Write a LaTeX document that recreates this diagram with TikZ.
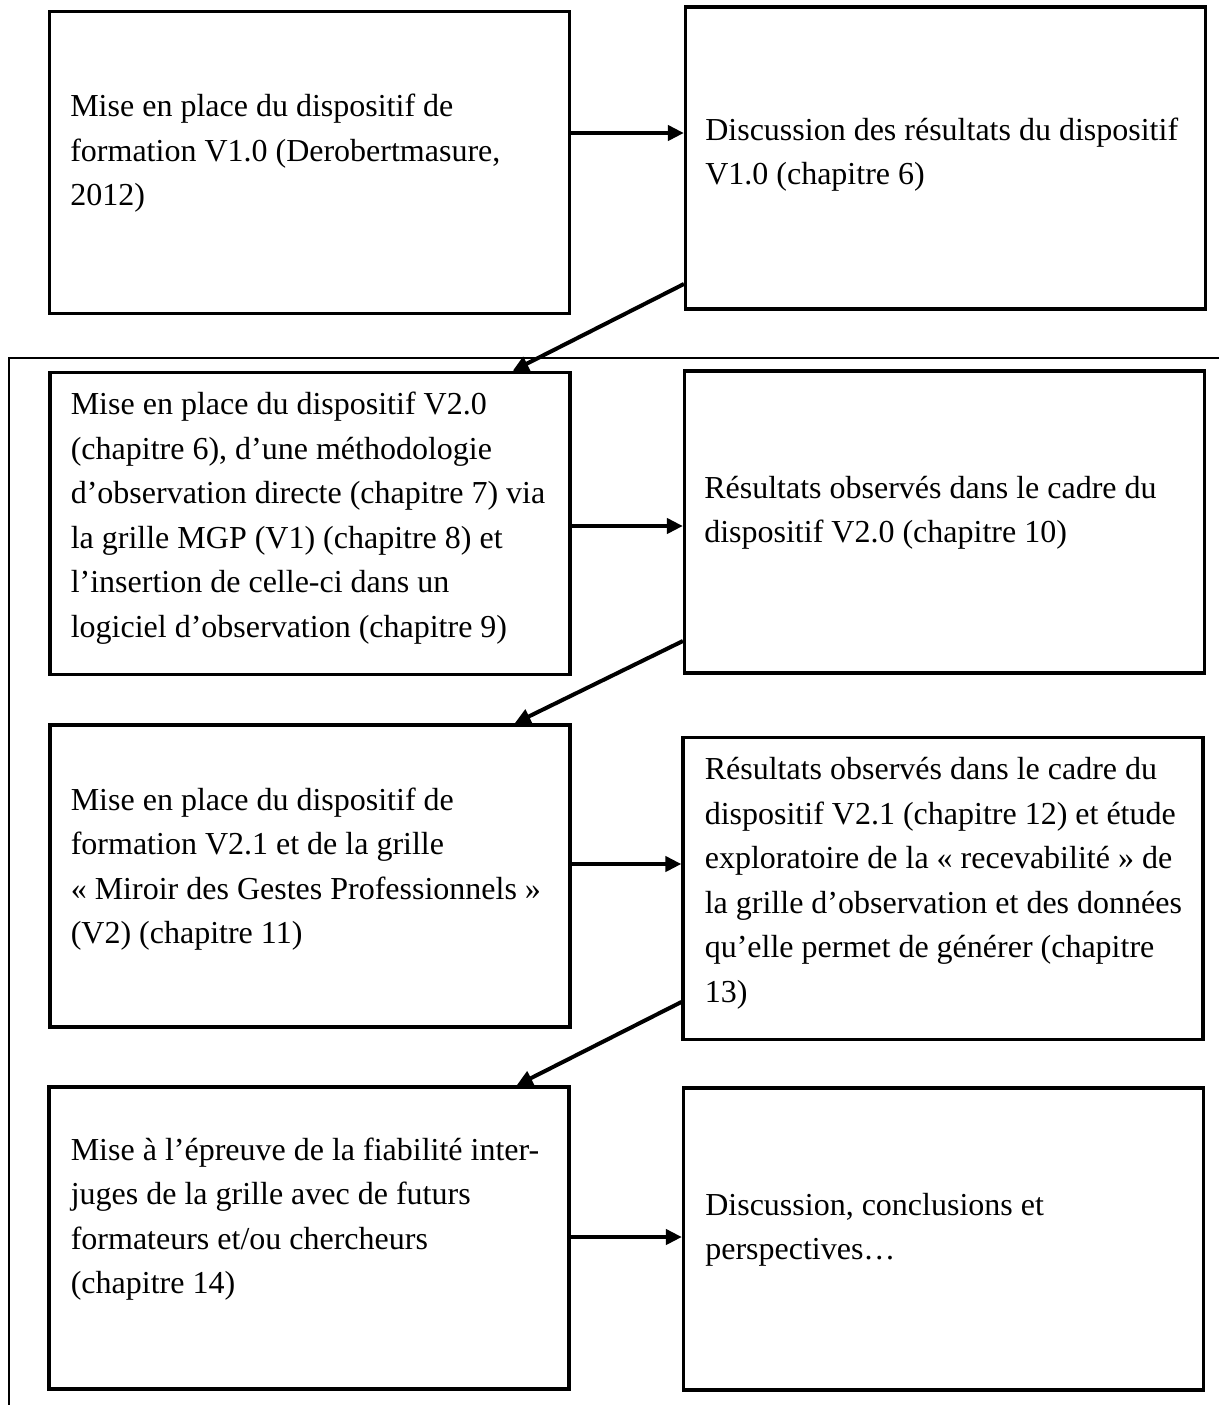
\documentclass[tikz,border=0pt]{standalone}
\usepackage{fontspec}
\setmainfont{Liberation Serif}
\usetikzlibrary{arrows.meta}

\begin{document}
\begin{tikzpicture}[x = 0.5pt, y = -0.5pt,
  box/.style = {draw, line width = 1.6pt, minimum width = 260pt, minimum height = 151pt, inner sep = 0pt},
  txt/.style = {anchor = north west, inner sep = 0pt, align = left, font = \fontsize{16}{22.25}\selectfont},
  arr/.style = {line width = 2pt, -{Triangle[length = 8pt, width = 7.5pt]}}]
\useasboundingbox (0,0) rectangle (1219,1405);
\coordinate (top) at (1219,358);
\coordinate (corner) at (9,358);
\coordinate (bottom) at (9,1405);
\node [box] (b1) at (309.5,162.5) {};
\node [box] (b2) at (945.5,158) {};
\node [box] (b3) at (310,523.5) {};
\node [box] (b4) at (944.5,522) {};
\node [box] (b5) at (310,876) {};
\node [box] (b6) at (943,888.5) {};
\node [box] (b7) at (309,1238) {};
\node [box] (b8) at (943.5,1239) {};
\node [txt] (t1) at ([shift = {(22,84)}]b1.north west) {Mise en place du dispositif de\\formation V1.0 (Derobertmasure,\\2012)};
\node [txt] (t2) at ([shift = {(21,112)}]b2.north west) {Discussion des résultats du dispositif\\V1.0 (chapitre 6)};
\node [txt] (t3) at ([shift = {(22,21)}]b3.north west) {Mise en place du dispositif V2.0\\(chapitre 6), d’une méthodologie\\d’observation directe (chapitre 7) via\\la grille MGP (V1) (chapitre 8) et\\l’insertion de celle-ci dans un\\logiciel d’observation (chapitre 9)};
\node [txt] (t4) at ([shift = {(21,106)}]b4.north west) {Résultats observés dans le cadre du\\dispositif V2.0 (chapitre 10)};
\node [txt] (t5) at ([shift = {(22,64)}]b5.north west) {Mise en place du dispositif de\\formation V2.1 et de la grille\\« Miroir des Gestes Professionnels »\\(V2) (chapitre 11)};
\node [txt] (t6) at ([shift = {(23,21)}]b6.north west) {Résultats observés dans le cadre du\\dispositif V2.1 (chapitre 12) et étude\\exploratoire de la « recevabilité » de\\la grille d’observation et des données\\qu’elle permet de générer (chapitre\\13)};
\node [txt] (t7) at ([shift = {(23,52)}]b7.north west) {Mise à l’épreuve de la fiabilité inter-\\juges de la grille avec de futurs\\formateurs et/ou chercheurs\\(chapitre 14)};
\node [txt] (t8) at ([shift = {(23,106)}]b8.north west) {Discussion, conclusions et\\perspectives…};
\draw [arr] ([yshift = 14.75pt]b1.east) -- ([yshift = 14.75pt]b1.east -| b2.west);
\draw [arr] ([yshift = -63pt]b2.west) -- ([xshift = -29.5pt]b3.north east);
\draw [arr] ([yshift = -1.25pt]b3.east) -- ([yshift = -1.25pt]b3.east -| b4.west);
\draw [arr] ([yshift = -59.5pt]b4.west) -- ([xshift = -28.5pt]b5.north east);
\draw [arr] ([yshift = 6pt]b5.east) -- ([yshift = 6pt]b5.east -| b6.west);
\draw [arr] ([yshift = -56.75pt]b6.west) -- ([xshift = -27pt]b7.north east);
\draw [arr] ([yshift = 0.5pt]b7.east) -- ([yshift = 0.5pt]b7.east -| b8.west);
\draw [line width = 1.4pt] (top) -- (corner) -- (bottom);
\end{tikzpicture}
\end{document}
